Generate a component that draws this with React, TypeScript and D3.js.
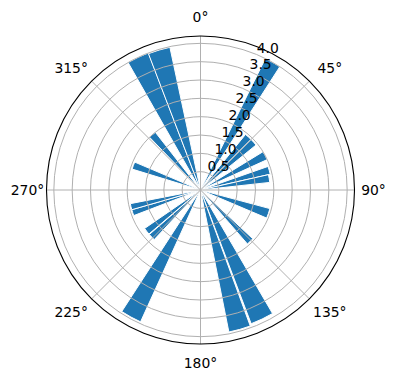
import React from "react";
import * as d3 from "d3";

// Angle tick labels (degrees, clockwise from north)
const thetaTicks: number[] = [0, 45, 90, 135, 180, 225, 270, 315];
// Radial tick values
const rTicks: number[] = [0.5, 1.0, 1.5, 2.0, 2.5, 3.0, 3.5, 4.0];
// Bars: centre angle (deg), angular width (deg), radius value
const barCenters: number[] = [29.5, 42, 48, 62, 74, 80.5, 109, 136, 154.5, 164.3, 208.7, 226, 232.5, 251.5, 256.5, 290, 319, 334.8, 343.5];
const barWidths: number[] = [6.5, 6, 6, 7, 6.5, 6.5, 8, 6, 9.5, 8.8, 8.5, 6, 6, 5, 5, 6, 6, 8.8, 8.8];
const barValues: number[] = [4.0, 1.95, 1.95, 2.0, 1.95, 1.9, 1.96, 1.95, 3.9, 3.95, 3.95, 1.85, 1.85, 1.95, 1.95, 1.95, 2.0, 4.0, 3.98];

const W = 396;
const H = 380;
const cx = 200.5;
const cy = 190;
const R = 154;
const rMax = 4.2;
const FONT = "'DejaVu Sans', sans-serif";
const FS = 13.9;

export default function App() {
  const r = d3.scaleLinear().domain([0, rMax]).range([0, R]);
  const rad = (d: number) => (d * Math.PI) / 180;
  const arc = d3.arc<any>();

  const bars = barCenters.map((c, i) => {
    const path = arc({
      innerRadius: 0,
      outerRadius: r(barValues[i]),
      startAngle: rad(c - barWidths[i] / 2),
      endAngle: rad(c + barWidths[i] / 2),
    });
    return <path key={i} d={path || ""} fill="#1f77b4" stroke="#ffffff" strokeWidth={1} />;
  });

  const labelR = 173;

  return (
    <svg width={W} height={H} style={{ position: "absolute", left: 0, top: 0 }}>
      <rect x={0} y={0} width={W} height={H} fill="#ffffff" />
      <g transform={`translate(${cx},${cy})`}>
        {bars}
        {rTicks.map((t) => (
          <circle key={t} r={r(t)} fill="none" stroke="#b0b0b0" strokeWidth={1} />
        ))}
        {thetaTicks.map((t) => (
          <line
            key={t}
            x1={0}
            y1={0}
            x2={R * Math.sin(rad(t))}
            y2={-R * Math.cos(rad(t))}
            stroke="#b0b0b0"
            strokeWidth={1}
          />
        ))}
        <circle r={R} fill="none" stroke="#000000" strokeWidth={1.1} />
        {rTicks.map((t) => (
          <text
            key={t}
            x={r(t) * Math.sin(rad(22.5))}
            y={-r(t) * Math.cos(rad(22.5)) - 2}
            fontFamily={FONT}
            fontSize={FS}
            textAnchor="start"
            fill="#000"
          >
            {t.toFixed(1)}
          </text>
        ))}
        {thetaTicks.map((t) => {
          const s = Math.sin(rad(t));
          const c = Math.cos(rad(t));
          const diag = Math.abs(s) > 0.1 && Math.abs(c) > 0.1;
          const x = labelR * s + (diag ? Math.sign(s) * 7 : 0);
          const y = -labelR * c;
          return (
            <text
              key={t}
              x={x}
              y={y}
              fontFamily={FONT}
              fontSize={FS}
              textAnchor="middle"
              dominantBaseline="central"
              fill="#000"
            >
              {`${t}°`}
            </text>
          );
        })}
      </g>
    </svg>
  );
}
